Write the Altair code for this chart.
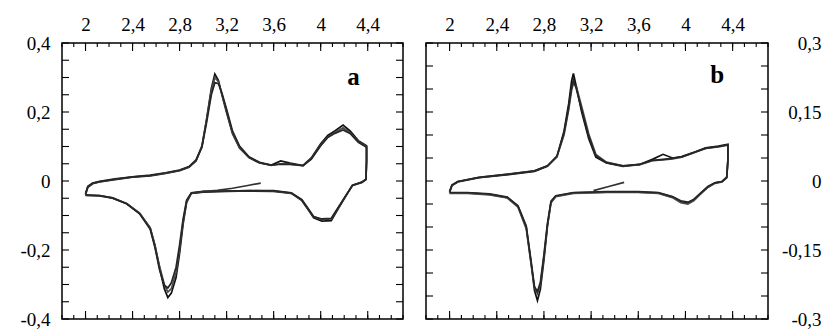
import altair as alt
import pandas as pd

# ---------------- panel a ----------------
# potential grid (V): anodic sweep 2.0 -> 4.39, then cathodic sweep back to 2.0
a_v = [2.00, 2.02, 2.06, 2.12, 2.25, 2.40, 2.55, 2.68, 2.80, 2.88,
       2.94, 2.99, 3.03, 3.07, 3.10, 3.13, 3.16, 3.20, 3.25, 3.31,
       3.39, 3.48, 3.58, 3.66, 3.74, 3.85, 3.92, 4.00, 4.06, 4.12,
       4.19, 4.25, 4.32, 4.39,
       4.39, 4.385, 4.35, 4.27, 4.21, 4.15, 4.09, 4.01, 3.94, 3.90,
       3.84, 3.75, 3.60, 3.40, 3.20, 3.00, 2.90, 2.86, 2.83, 2.80,
       2.77, 2.73, 2.70, 2.67, 2.63, 2.59, 2.55, 2.46, 2.35, 2.23,
       2.12, 2.00]
a_i1 = [-0.040, -0.018, -0.008, -0.003, 0.004, 0.011, 0.015, 0.022, 0.030, 0.040,
        0.058, 0.100, 0.180, 0.268, 0.310, 0.292, 0.250, 0.198, 0.137, 0.096,
        0.068, 0.052, 0.046, 0.058, 0.052, 0.045, 0.067, 0.108, 0.132, 0.145,
        0.162, 0.145, 0.117, 0.102,
        0.060, 0.005, -0.003, -0.012, -0.046, -0.080, -0.115, -0.116, -0.107, -0.086,
        -0.057, -0.036, -0.030, -0.029, -0.030, -0.032, -0.036, -0.062, -0.125, -0.210,
        -0.280, -0.325, -0.338, -0.312, -0.252, -0.186, -0.136, -0.094, -0.066, -0.050,
        -0.043, -0.042]
a_i2 = [-0.038, -0.016, -0.007, -0.002, 0.005, 0.012, 0.016, 0.023, 0.031, 0.041,
        0.060, 0.102, 0.178, 0.262, 0.300, 0.288, 0.252, 0.202, 0.140, 0.098,
        0.069, 0.053, 0.045, 0.050, 0.049, 0.044, 0.064, 0.104, 0.128, 0.140,
        0.154, 0.140, 0.114, 0.100,
        0.058, 0.004, -0.004, -0.013, -0.045, -0.078, -0.110, -0.112, -0.104, -0.084,
        -0.055, -0.035, -0.029, -0.028, -0.029, -0.031, -0.035, -0.058, -0.118, -0.198,
        -0.265, -0.312, -0.322, -0.300, -0.248, -0.186, -0.136, -0.093, -0.065, -0.049,
        -0.042, -0.041]
a_i3 = [-0.036, -0.015, -0.006, -0.001, 0.006, 0.012, 0.017, 0.024, 0.032, 0.042,
        0.061, 0.098, 0.170, 0.250, 0.285, 0.282, 0.255, 0.208, 0.145, 0.101,
        0.070, 0.054, 0.046, 0.049, 0.048, 0.045, 0.063, 0.102, 0.126, 0.138,
        0.148, 0.138, 0.112, 0.098,
        0.056, 0.004, -0.004, -0.013, -0.044, -0.076, -0.108, -0.110, -0.103, -0.083,
        -0.054, -0.034, -0.028, -0.028, -0.029, -0.030, -0.034, -0.055, -0.110, -0.185,
        -0.250, -0.295, -0.310, -0.302, -0.258, -0.192, -0.140, -0.095, -0.066, -0.049,
        -0.042, -0.040]
# first sweep from the open-circuit potential
a_v0 = [3.49, 3.38, 3.25, 3.12, 3.00, 2.92]
a_i0 = [-0.006, -0.013, -0.021, -0.027, -0.031, -0.035]

# ---------------- panel b ----------------
b_v = [2.00, 2.02, 2.07, 2.25, 2.50, 2.72, 2.83, 2.91, 2.97, 3.01,
       3.035, 3.05, 3.075, 3.12, 3.18, 3.24, 3.33, 3.47, 3.61, 3.72,
       3.81, 3.89, 3.97, 4.08, 4.17, 4.28, 4.36,
       4.36, 4.35, 4.31, 4.25, 4.19, 4.13, 4.07, 4.02, 3.96, 3.89,
       3.77, 3.60, 3.33, 3.05, 2.90, 2.86, 2.83, 2.80, 2.77, 2.745,
       2.72, 2.69, 2.65, 2.58, 2.49, 2.34, 2.15, 2.00]
b_i1 = [-0.025, -0.010, -0.002, 0.007, 0.014, 0.021, 0.032, 0.053, 0.108, 0.168,
        0.218, 0.234, 0.205, 0.150, 0.092, 0.052, 0.039, 0.032, 0.036, 0.047,
        0.058, 0.050, 0.053, 0.063, 0.072, 0.076, 0.080,
        0.046, 0.008, -0.001, -0.004, -0.013, -0.027, -0.041, -0.048, -0.045, -0.035,
        -0.026, -0.024, -0.024, -0.026, -0.033, -0.046, -0.098, -0.172, -0.235, -0.260,
        -0.238, -0.176, -0.100, -0.055, -0.036, -0.029, -0.026, -0.026]
b_i2 = [-0.024, -0.009, -0.001, 0.008, 0.015, 0.022, 0.033, 0.052, 0.100, 0.155,
        0.198, 0.212, 0.205, 0.162, 0.102, 0.058, 0.041, 0.033, 0.035, 0.044,
        0.046, 0.048, 0.052, 0.062, 0.071, 0.074, 0.078,
        0.044, 0.007, -0.002, -0.005, -0.014, -0.028, -0.043, -0.050, -0.047, -0.036,
        -0.027, -0.025, -0.025, -0.027, -0.034, -0.047, -0.095, -0.165, -0.225, -0.245,
        -0.232, -0.178, -0.104, -0.057, -0.037, -0.030, -0.027, -0.027]
b_i3 = [-0.023, -0.009, -0.001, 0.008, 0.015, 0.022, 0.033, 0.054, 0.104, 0.160,
        0.205, 0.220, 0.200, 0.155, 0.097, 0.055, 0.040, 0.033, 0.036, 0.045,
        0.047, 0.049, 0.053, 0.063, 0.071, 0.075, 0.079,
        0.045, 0.008, -0.001, -0.004, -0.012, -0.026, -0.040, -0.046, -0.043, -0.034,
        -0.025, -0.023, -0.023, -0.025, -0.032, -0.044, -0.092, -0.160, -0.220, -0.240,
        -0.230, -0.172, -0.098, -0.054, -0.035, -0.028, -0.025, -0.025]
b_v0 = [3.48, 3.35, 3.22]
b_i0 = [-0.003, -0.012, -0.021]

# axis labels and tick positions
x_major = [2, 2.4, 2.8, 3.2, 3.6, 4, 4.4]
x_minor = [round(1.8 + 0.1 * k, 1) for k in range(30)]
a_y_labels = [-0.4, -0.2, 0, 0.2, 0.4]
b_y_labels = [-0.3, -0.15, 0, 0.15, 0.3]

SERIES = ["cycle 1", "cycle 2", "cycle 3", "start"]
COLORS = ["#101010", "#4a4a4a", "#262626", "#303030"]
FONT = "Liberation Serif"
H = 276
X_DOM = [1.8, 4.7]


def sweeps(v, currents, v0, i0):
    rows = []
    for k, cur in enumerate(currents, start=1):
        for n, (e, i) in enumerate(zip(v, cur)):
            rows.append({"cycle": f"cycle {k}", "step": n, "E": e, "I": i})
    for n, (e, i) in enumerate(zip(v0, i0)):
        rows.append({"cycle": "start", "step": n, "E": e, "I": i})
    return pd.DataFrame(rows)


def panel(df, width, y_max, y_labels, label_side, label_pad,
          letter, letter_e, letter_i):
    xs = alt.Scale(domain=X_DOM, nice=False, zero=False)
    ys = alt.Scale(domain=[-y_max, y_max], nice=False, zero=False)
    n_y = int(round(2 * y_max / 0.05)) + 1
    y_ticks = [round(-y_max + 0.05 * k, 2) for k in range(n_y)]
    y_ticks = [0.0 if abs(t) < 1e-9 else t for t in y_ticks]
    lab = "replace('' + datum.value, '.', ',')"

    # the curves, carrying the labelled axes (top and one side)
    lines = alt.Chart(df).mark_line(strokeWidth=1.7).encode(
        x=alt.X("E:Q", scale=xs, axis=alt.Axis(
            orient="top", values=x_major, ticks=False, tickSize=0, domain=False,
            grid=False, labelPadding=9, labelExpr=lab, title=None)),
        y=alt.Y("I:Q", scale=ys, axis=alt.Axis(
            orient=label_side, values=y_labels, ticks=False, tickSize=0, domain=False,
            grid=False, labelPadding=label_pad, labelAlign="right",
            labelExpr=lab, title=None)),
        color=alt.Color("cycle:N", scale=alt.Scale(domain=SERIES, range=COLORS), legend=None),
        order="step:Q",
    )

    # inward tick marks along the four edges of the frame
    def x_ticks(values, length):
        src = alt.Chart(pd.DataFrame({"E": values}))
        xe = alt.X("E:Q", scale=xs, axis=None)
        top = src.mark_rule(color="black", strokeWidth=1.1).encode(
            x=xe, y=alt.value(0), y2=alt.value(length))
        bottom = src.mark_rule(color="black", strokeWidth=1.1).encode(
            x=xe, y=alt.value(H), y2=alt.value(H - length))
        return [top, bottom]

    ysrc = alt.Chart(pd.DataFrame({"I": y_ticks}))
    ye = alt.Y("I:Q", scale=ys, axis=None)
    left = ysrc.mark_rule(color="black", strokeWidth=1.1).encode(
        y=ye, x=alt.value(0), x2=alt.value(7))
    right = ysrc.mark_rule(color="black", strokeWidth=1.1).encode(
        y=ye, x=alt.value(width), x2=alt.value(width - 7))

    tag = alt.Chart(pd.DataFrame({"E": [letter_e], "I": [letter_i], "t": [letter]})).mark_text(
        font=FONT, fontSize=25, fontWeight="bold", baseline="alphabetic", align="center",
        color="black",
    ).encode(
        x=alt.X("E:Q", scale=xs, axis=None),
        y=alt.Y("I:Q", scale=ys, axis=None),
        text="t:N",
    )

    layers = [lines] + x_ticks(x_minor, 4) + x_ticks(x_major, 8) + [left, right, tag]
    return alt.layer(*layers).resolve_axis(
        x="independent", y="independent"
    ).properties(width=width, height=H)


df_a = sweeps(a_v, [a_i1, a_i2, a_i3], a_v0, a_i0)
df_b = sweeps(b_v, [b_i1, b_i2, b_i3], b_v0, b_i0)

pa = panel(df_a, 341, 0.4, a_y_labels, "left", 12, "a", 4.28, 0.278)
pb = panel(df_b, 342, 0.3, b_y_labels, "right", 53, "b", 4.27, 0.213)

chart = alt.hconcat(pa, pb, spacing=23, bounds="flush").properties(
    padding={"left": 19, "top": 14, "right": 5, "bottom": 5},
    background="white",
).configure_view(
    stroke="black", strokeWidth=1.5
).configure_axis(
    labelFont=FONT, labelFontSize=19, labelColor="black"
)

chart.save("out.html", embed_options={"renderer": "svg", "actions": False})
